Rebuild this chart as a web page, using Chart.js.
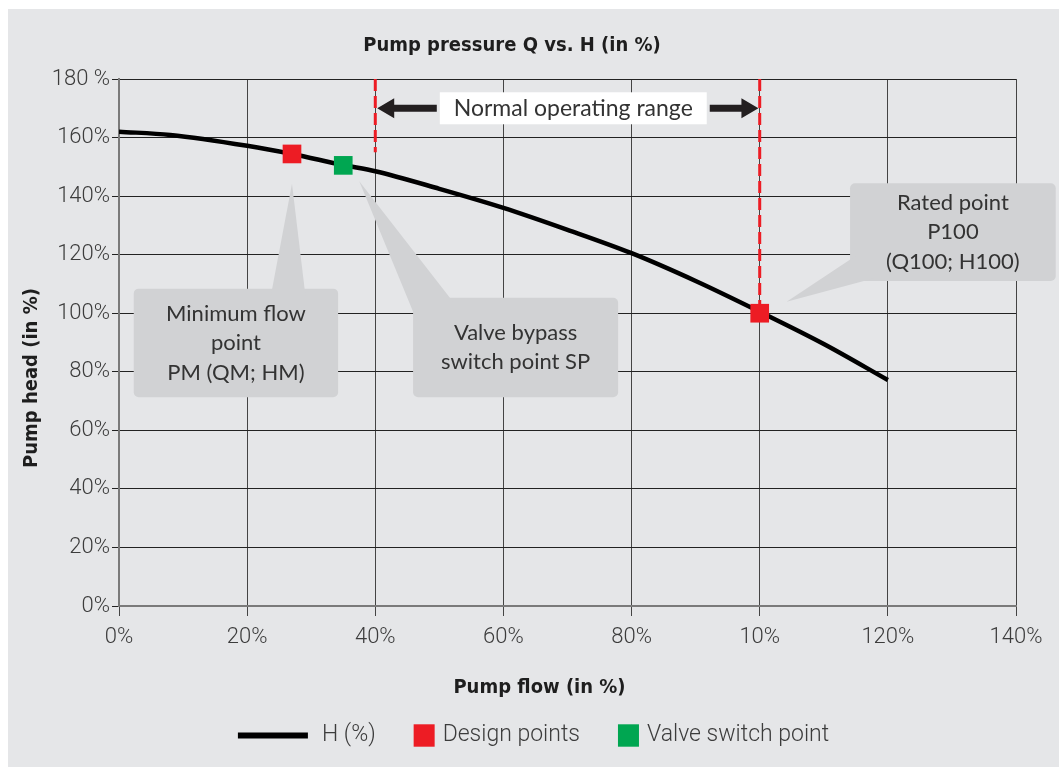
<!DOCTYPE html>
<html><head><meta charset="utf-8">
<script src="https://cdn.jsdelivr.net/npm/chart.js@4"></script>
<style>
html,body{margin:0;padding:0;background:#fff;}
#panel{position:absolute;left:8px;top:9px;width:1051px;height:758px;background:#e5e6e8;}
canvas{display:block;}
</style></head><body>
<div id="panel"><canvas id="c" width="1051" height="758"></canvas></div>
<script>
// ---- data ----
const flowPct = [0, 8, 20, 27, 35, 40, 50, 60, 70, 80, 90, 100, 110, 120];
const headPct = [162, 160.9, 157.2, 154.4, 150.6, 148.5, 142.5, 136, 128.5, 120.5, 111, 100.5, 89.5, 77.2];
const designFlow = [27, 100];
const designHead = [154.4, 100];
const switchFlow = [35];
const switchHead = [150.5];
const rangeFlow = [40, 100];          // limits of normal operating range
const rangeLineTop = [180, 180];
const rangeLineBottom = [155, 100];
const xTickLabels = ['0%','20%','40%','60%','80%','10%','120%','140%'];
const yTickLabels = ['0%','20%','40%','60%','80%','100%','120%','140%','160%','180 %'];
const seriesNames = ['H (%)', 'Design points', 'Valve switch point'];
const chartTitle = 'Pump pressure Q vs. H (in %)';
const xTitle = 'Pump flow (in %)';
const yTitle = 'Pump head (in %)';
const rangeLabel = 'Normal operating range';
const calloutTexts = [
  ['Minimum flow', 'point', 'PM (QM; HM)'],
  ['Valve bypass', 'switch point SP'],
  ['Rated point', 'P100', '(Q100; H100)']
];

// ---- styling / geometry (data units for placement) ----
const RED = '#ed1c24', GREEN = '#00a651';
const BOLDF = '"DejaVu Sans Condensed", "DejaVu Sans", sans-serif';
const TICKF = 'Roboto, "Noto Sans", sans-serif';
const SANS = 'Lato, "Open Sans", sans-serif';
const calloutGeom = [
  {box:[2.3, 34.2, 71.3, 108.4], pointer:[[27,144.2],[23.7,106],[29.1,106]]},
  {box:[45.9, 77.9, 71.3, 105.3], pointer:[[37.5,145.1],[47,94.7],[52.1,104]]},
  {box:[114.1, 146.2, 111.0, 144.4], pointer:[[104.2,103.9],[115,119.6],[118,112]]}
];
const arrowGeom = {y:170, left:[40.3, 49.6], right:[92.2, 99.8], labelX:70.9};

const decor = {
  id: 'decor',
  beforeDatasetsDraw(chart) {
    const ctx = chart.ctx, xs = chart.scales.x, ys = chart.scales.y;
    ctx.save();
    calloutGeom.forEach((g, i) => {
      const x0 = xs.getPixelForValue(g.box[0]), x1 = xs.getPixelForValue(g.box[1]);
      const yT = ys.getPixelForValue(g.box[3]), yB = ys.getPixelForValue(g.box[2]);
      ctx.fillStyle = '#d1d2d4';
      ctx.beginPath(); ctx.roundRect(x0, yT, x1 - x0, yB - yT, 5); ctx.fill();
      ctx.beginPath();
      g.pointer.forEach(([px, py], k) => {
        const X = xs.getPixelForValue(px), Y = ys.getPixelForValue(py);
        k ? ctx.lineTo(X, Y) : ctx.moveTo(X, Y);
      });
      ctx.closePath(); ctx.fill();
      const lines = calloutTexts[i];
      const cx = (x0 + x1) / 2, cy = (yT + yB) / 2, lh = 29.5;
      ctx.fillStyle = '#333';
      ctx.font = '22px ' + SANS;
      ctx.textAlign = 'center'; ctx.textBaseline = 'middle';
      lines.forEach((t, k) => ctx.fillText(t, cx, cy + (k - (lines.length - 1) / 2) * lh));
    });
    const ly = ys.getPixelForValue(arrowGeom.y);
    const bgL = xs.getPixelForValue(arrowGeom.left[1]) + 3, bgR = xs.getPixelForValue(arrowGeom.right[0]) - 3;
    ctx.fillStyle = '#fff';
    ctx.fillRect(bgL, ly - 16, bgR - bgL, 32);
    ctx.fillStyle = '#333';
    ctx.font = '23px ' + SANS;
    ctx.textAlign = 'center'; ctx.textBaseline = 'middle';
    ctx.fillText(rangeLabel, xs.getPixelForValue(arrowGeom.labelX), ly);
    ctx.restore();
  },
  afterDatasetsDraw(chart) {
    const ctx = chart.ctx, xs = chart.scales.x, ys = chart.scales.y;
    const y = ys.getPixelForValue(arrowGeom.y);
    ctx.save();
    ctx.fillStyle = '#231f20';
    const arrow = (tipX, tailX) => {
      const dir = Math.sign(tailX - tipX), head = 17, hh = 10, sh = 3.5;
      ctx.beginPath();
      ctx.moveTo(tipX, y);
      ctx.lineTo(tipX + dir * head, y - hh);
      ctx.lineTo(tipX + dir * head, y - sh);
      ctx.lineTo(tailX, y - sh);
      ctx.lineTo(tailX, y + sh);
      ctx.lineTo(tipX + dir * head, y + sh);
      ctx.lineTo(tipX + dir * head, y + hh);
      ctx.closePath(); ctx.fill();
    };
    arrow(xs.getPixelForValue(arrowGeom.left[0]), xs.getPixelForValue(arrowGeom.left[1]));
    arrow(xs.getPixelForValue(arrowGeom.right[1]), xs.getPixelForValue(arrowGeom.right[0]));
    ctx.restore();
  },
  afterDraw(chart) {
    const ctx = chart.ctx, ca = chart.chartArea, W = chart.width;
    ctx.save();
    ctx.fillStyle = '#1e1e1e';
    ctx.font = 'bold 20px ' + BOLDF;
    ctx.textAlign = 'center'; ctx.textBaseline = 'middle';
    ctx.fillText(xTitle, W / 2 + 6, ca.bottom + 82);
    ctx.save();
    ctx.translate(24, 369);
    ctx.rotate(-Math.PI / 2);
    ctx.fillText(yTitle, 0, 0);
    ctx.restore();
    const items = [
      {kind:'line', color:'#000', label:seriesNames[0]},
      {kind:'box', color:RED, label:seriesNames[1]},
      {kind:'box', color:GREEN, label:seriesNames[2]}
    ];
    ctx.font = '300 23px ' + TICKF;
    const widths = items.map(it => (it.kind === 'line' ? 70 + 14 : 21 + 8) + ctx.measureText(it.label).width);
    const gap = 38;
    const total = widths.reduce((a, b) => a + b, 0) + gap * (items.length - 1);
    let x = W / 2 - total / 2;
    const ly = 726.5;
    items.forEach((it, i) => {
      ctx.fillStyle = it.color;
      let tx;
      if (it.kind === 'line') { ctx.fillRect(x, ly - 3, 70, 6); tx = x + 70 + 14; }
      else { ctx.fillRect(x, ly - 11.2, 21, 22.4); tx = x + 29; }
      ctx.fillStyle = '#3c3c3c';
      ctx.textAlign = 'left';
      ctx.fillText(it.label, tx, ly);
      x += widths[i] + gap;
    });
    ctx.restore();
  }
};

const pts = (xa, ya) => xa.map((v, i) => ({x: v, y: ya[i]}));

new Chart(document.getElementById('c'), {
  type: 'line',
  data: {
    datasets: [
      {label: seriesNames[1], data: pts(designFlow, designHead), showLine: false,
       pointStyle: 'rect', pointRadius: 13.2, pointHoverRadius: 13.2, pointBackgroundColor: RED, pointBorderWidth: 0, order: 0},
      {label: seriesNames[2], data: pts(switchFlow, switchHead), showLine: false,
       pointStyle: 'rect', pointRadius: 13.2, pointHoverRadius: 13.2, pointBackgroundColor: GREEN, pointBorderWidth: 0, order: 0},
      {label: seriesNames[0], data: pts(flowPct, headPct), borderColor: '#000', borderWidth: 4.5,
       pointRadius: 0, cubicInterpolationMode: 'monotone', order: 1},
      {label: 'range-low', data: [{x: rangeFlow[0], y: rangeLineTop[0]}, {x: rangeFlow[0], y: rangeLineBottom[0]}],
       borderColor: RED, borderWidth: 3, borderDash: [12, 5], pointRadius: 0, order: 2},
      {label: 'range-high', data: [{x: rangeFlow[1], y: rangeLineTop[1]}, {x: rangeFlow[1], y: rangeLineBottom[1]}],
       borderColor: RED, borderWidth: 3, borderDash: [12, 5], pointRadius: 0, order: 2}
    ]
  },
  options: {
    responsive: false, animation: false, devicePixelRatio: 1,
    layout: {padding: {top: 0, right: 43, bottom: 51, left: 0}},
    plugins: {
      legend: {display: false}, tooltip: {enabled: false},
      title: {display: true, text: chartTitle, color: '#1e1e1e',
              font: {family: BOLDF, size: 20, weight: 'bold'}, padding: {top: 25, bottom: 21}}
    },
    scales: {
      x: {type: 'linear', min: 0, max: 140,
          afterFit: s => { s.height = 110; },
          ticks: {stepSize: 20, padding: 8, color: '#3c3c3c', font: {family: TICKF, size: 22, weight: '300'},
                  callback: (v, i) => xTickLabels[i]},
          grid: {color: '#444', lineWidth: 1, tickLength: 10},
          border: {color: '#7a7a7a', width: 2}},
      y: {min: 0, max: 180,
          afterFit: s => { s.width = 111; },
          ticks: {stepSize: 20, padding: 2, color: '#3c3c3c', font: {family: TICKF, size: 22, weight: '300'},
                  callback: (v, i) => yTickLabels[i]},
          grid: {color: '#222', lineWidth: 1, tickLength: 7},
          border: {color: '#7a7a7a', width: 2}}
    }
  },
  plugins: [decor]
});
</script>
</body></html>
